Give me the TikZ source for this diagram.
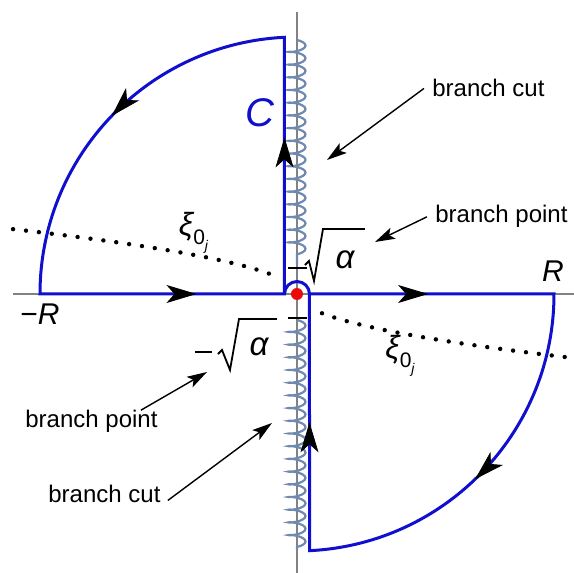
\documentclass[tikz,border=0pt]{standalone}
\usepackage{fontspec}
\setmainfont{Liberation Sans}
\usetikzlibrary{arrows.meta,decorations.pathmorphing,decorations.markings}
\definecolor{cblue}{RGB}{15,15,205}
\definecolor{cutc}{RGB}{112,138,175}
\definecolor{axisc}{RGB}{130,130,130}
\definecolor{dotred}{RGB}{235,10,10}
\newcommand{\xilab}{{\fontsize{16pt}{18pt}\selectfont\itshape ξ}\raisebox{-4.6pt}{\fontsize{10.5pt}{12pt}\selectfont 0\raisebox{-3pt}{\fontsize{7pt}{8pt}\selectfont\itshape j}}}
\begin{document}
\begin{tikzpicture}[x=0.5pt,y=0.5pt,
  contour/.style={draw=cblue,line width=1.5pt,line join=miter},
  midarrow/.style={decorate,decoration={markings,mark=at position #1 with {\arrow[black]{Stealth[length=15pt,width=9pt,inset=4pt]}}}},
  note/.style={font=\fontsize{12pt}{14pt}\selectfont,inner sep=0pt},
  pointer/.style={draw=black,line width=0.7pt,-{Stealth[length=10pt,width=6pt,inset=2.2pt]}},
  cut/.style={draw=cutc,line width=1.1pt,decorate,decoration={coil,amplitude=4.25pt,segment length=6.35pt,aspect=0.28}},
  tickmark/.style={draw=black,line width=1pt},
  radical/.style={draw=black,line width=0.9pt,line join=miter},
  dots/.style={draw=black,line width=2.2pt,line cap=round,dash pattern=on 0pt off 6.5pt},
  axis/.style={draw=axisc,line width=0.7pt},
  mathlab/.style={inner sep=0pt,font=\fontsize{15pt}{18pt}\selectfont\itshape}
]
\useasboundingbox (-297,-279) rectangle (277,294);
% axes
\draw[axis] (-284,0) -- (277,0);
\draw[axis] (0,282) -- (0,-279);
% branch cuts
\draw[cut] (0,254) -- (0,29);
\draw[cut] (0,-26) -- (0,-256);
% contour
\draw[contour] (-12.5,0) -- (-12.5,256.7) arc[start angle=92.79, end angle=180, radius=128.5pt]
  -- (-12.5,0) arc[start angle=180, end angle=0, radius=6.25pt] -- (257,0)
  arc[start angle=0, end angle=-87.21, radius=128.5pt] -- (12.5,0);
\path[midarrow=0.64] (-257,0) -- (-12.5,0);
\path[midarrow=0.485] (12.5,0) -- (257,0);
\path[midarrow=0.61] (-12.5,0) -- (-12.5,256.7);
\path[midarrow=0.5] (12.5,-256.7) -- (12.5,0);
\path[midarrow=0.497] (-12.5,256.7) arc[start angle=92.79,end angle=180,radius=128.5pt];
\path[midarrow=0.529] (257,0) arc[start angle=0,end angle=-87.21,radius=128.5pt];
% dotted curves
\draw[dots] plot[domain=16.85:5, samples=60, variable=\t] ({-\t*\t},{3.85*\t});
\draw[dots] plot[domain=5:16.64, samples=60, variable=\t] ({\t*\t},{-3.85*\t});
% branch point ticks
\draw[tickmark] (-9,26) -- (10,26);
\draw[tickmark] (-9,-24) -- (10,-24);
% radicals
\draw[radical] (8,29) -- (12,33) -- (17,13) -- (26,65) -- (68,65);
\node[inner sep=0pt,font=\fontsize{16.5pt}{19pt}\selectfont\itshape] (alpha1) at (48,34) {α};
\draw[radical] (-102,-58) -- (-85,-58);
\draw[radical] (-79,-60) -- (-75,-56) -- (-67,-76) -- (-58,-25) -- (-20,-25);
\node[inner sep=0pt,font=\fontsize{16.5pt}{19pt}\selectfont\itshape] (alpha2) at (-38,-53) {α};
% origin
\node[circle,fill=dotred,minimum size=6pt,inner sep=0pt] (origin) at (0,0) {};
% labels
\node[mathlab] (Rp) at (256,23) {R};
\node[mathlab] (Rm) at (-257,-20) {{\upshape −}R};
\node[inner sep=0pt,font=\fontsize{20pt}{24pt}\selectfont\itshape,text=cblue] (C) at (-37,181) {C};
\node[inner sep=0pt] (xi1) at (-103.5,61.5) {\xilab};
\node[inner sep=0pt] (xi2) at (103,-62) {\xilab};
% notes
\node[note,anchor=base west] (bc1) at (135,197) {branch cut};
\node[note,anchor=base west] (bp1) at (138,71) {branch point};
\node[note,anchor=base west] (bp2) at (-272,-134) {branch point};
\node[note,anchor=base west] (bc2) at (-249,-209) {branch cut};
\coordinate (cuttop) at (30,134);
\coordinate (bptop) at (78,52);
\coordinate (bpbot) at (-90,-78);
\coordinate (cutbot) at (-25,-129);
\draw[pointer] ([xshift=-4pt]bc1.west) -- (cuttop);
\draw[pointer] ([xshift=-4pt]bp1.west) -- (bptop);
\draw[pointer] ([xshift=-8.5pt]bp2.north east) -- (bpbot);
\draw[pointer] ([xshift=3.5pt,yshift=-3pt]bc2.east) -- (cutbot);
\end{tikzpicture}
\end{document}
